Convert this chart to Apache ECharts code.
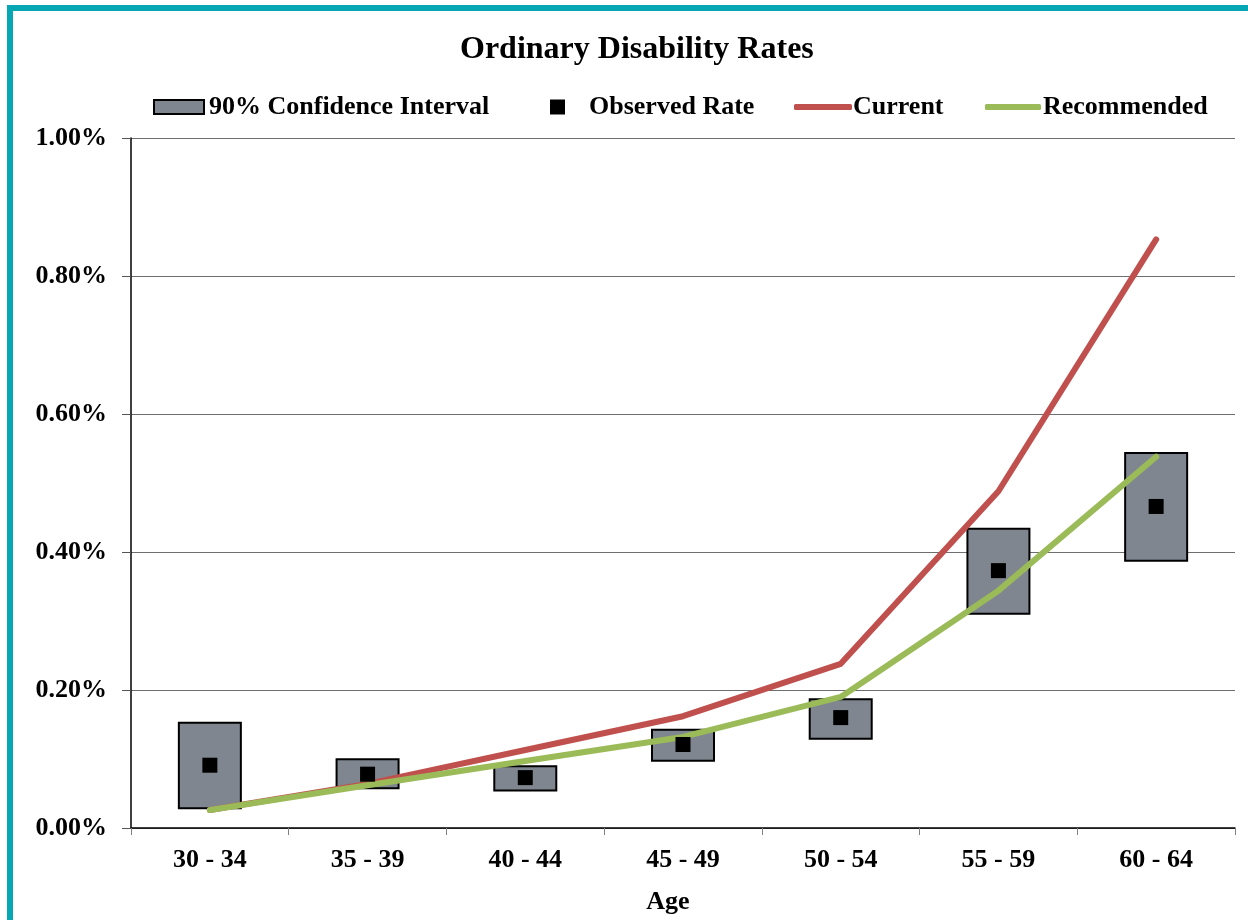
<!DOCTYPE html>
<html>
<head>
<meta charset="utf-8">
<style>html,body{margin:0;padding:0;background:#fff;}#chart{width:1248px;height:920px;}</style>
<script src="https://cdn.jsdelivr.net/npm/echarts@6/dist/echarts.min.js"></script>
</head>
<body>
<div id="chart"></div>
<script>
var categories = ['30 - 34', '35 - 39', '40 - 44', '45 - 49', '50 - 54', '55 - 59', '60 - 64'];
// values in percent
var ciLow = [0.027, 0.056, 0.053, 0.096, 0.128, 0.309, 0.386];
var ciHigh = [0.154, 0.101, 0.091, 0.144, 0.188, 0.435, 0.545];
var observed = [0.091, 0.078, 0.073, 0.121, 0.160, 0.373, 0.466];
var current = [0.026, 0.064, 0.113, 0.162, 0.238, 0.488, 0.853];
var recommended = [0.026, 0.062, 0.097, 0.132, 0.190, 0.344, 0.538];
var yTicks = [0, 0.2, 0.4, 0.6, 0.8, 1.0];

var ciSpan = ciHigh.map(function (h, i) { return +(h - ciLow[i]).toFixed(4); });
var FONT = '"Liberation Serif", "Times New Roman", serif';
var chart = echarts.init(document.getElementById('chart'));
var legendText = { fontFamily: FONT, fontWeight: 'bold', fontSize: 26, color: '#000' };

chart.setOption({
  animation: false,
  backgroundColor: '#fff',
  title: {
    text: 'Ordinary Disability Rates', left: 455, top: 29,
    textStyle: { fontFamily: FONT, fontWeight: 'bold', fontSize: 32, color: '#000' }
  },
  graphic: [{
    type: 'rect', silent: true, z: 100,
    shape: { x: 10, y: 8, width: 1400, height: 1100 },
    style: { fill: 'none', stroke: '#07A6B4', lineWidth: 6 }
  }],
  legend: [
    { data: [{ name: '90% Confidence Interval', icon: 'rect' }], left: 153, top: 94, padding: 0, itemWidth: 50, itemHeight: 14, textStyle: legendText, selectedMode: false },
    { data: [{ name: 'Observed Rate', icon: 'rect' }], left: 550, top: 94, padding: 0, itemWidth: 15, itemHeight: 15, textStyle: Object.assign({}, legendText, { padding: [0, 0, 0, 19] }), selectedMode: false },
    { data: [{ name: 'Current', icon: 'roundRect' }], left: 794, top: 94, padding: 0, itemWidth: 58, itemHeight: 6, textStyle: Object.assign({}, legendText, { padding: [0, 0, 0, -4] }), selectedMode: false },
    { data: [{ name: 'Recommended', icon: 'roundRect' }], left: 985, top: 94, padding: 0, itemWidth: 56, itemHeight: 6, textStyle: Object.assign({}, legendText, { padding: [0, 0, 0, -3] }), selectedMode: false }
  ],
  grid: { left: 131, right: 13, top: 138, bottom: 86, containLabel: false },
  xAxis: {
    type: 'category', data: categories, boundaryGap: true,
    name: 'Age', nameLocation: 'middle', nameGap: 61,
    nameTextStyle: { fontFamily: FONT, fontWeight: 'bold', fontSize: 26, color: '#000', padding: [0, 30, 0, 0] },
    axisLine: { lineStyle: { color: '#000', width: 1.5 } },
    axisTick: { show: true, interval: 0, length: 7, lineStyle: { color: '#808080' } },
    axisLabel: { margin: 19, fontFamily: FONT, fontWeight: 'bold', fontSize: 26, color: '#000' },
    splitLine: { show: false }
  },
  yAxis: {
    type: 'value', min: yTicks[0], max: yTicks[yTicks.length - 1], interval: 0.2,
    axisLine: { show: true, lineStyle: { color: '#000', width: 1.5 } },
    axisTick: { show: true, length: 9, inside: false, lineStyle: { color: '#555' } },
    axisLabel: { margin: 24, fontFamily: FONT, fontWeight: 'bold', fontSize: 26, color: '#000',
      formatter: function (v) { return v.toFixed(2) + '%'; } },
    splitLine: { show: true, lineStyle: { color: '#6e6e6e', width: 1 } }
  },
  series: [
    { name: 'ciBase', type: 'bar', stack: 'ci', data: ciLow, barWidth: 64, silent: true,
      itemStyle: { color: 'rgba(0,0,0,0)' }, z: 2 },
    { name: '90% Confidence Interval', type: 'bar', stack: 'ci', data: ciSpan, barWidth: 64,
      itemStyle: { color: '#7F868F', borderColor: '#000', borderWidth: 2 }, z: 2 },
    { name: 'Current', type: 'line', data: current, symbol: 'none', z: 3,
      itemStyle: { color: '#C0504D' }, lineStyle: { color: '#C0504D', width: 6, cap: 'round', join: 'round' } },
    { name: 'Recommended', type: 'line', data: recommended, symbol: 'none', z: 4,
      itemStyle: { color: '#9BBB59' }, lineStyle: { color: '#9BBB59', width: 6, cap: 'round', join: 'round' } },
    { name: 'Observed Rate', type: 'scatter', data: observed, symbol: 'rect', symbolSize: 15, z: 5,
      itemStyle: { color: '#000', opacity: 1 } }
  ]
});
</script>
</body>
</html>
